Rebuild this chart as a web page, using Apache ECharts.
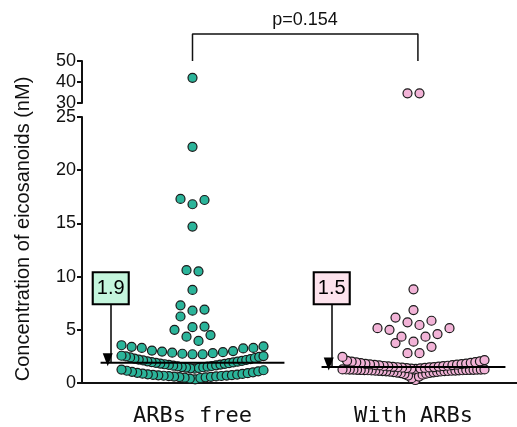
<!DOCTYPE html>
<html>
<head>
<meta charset="utf-8">
<script src="https://cdn.jsdelivr.net/npm/echarts@6/dist/echarts.min.js"></script>
<style>
  html, body { margin: 0; padding: 0; background: #fff; }
  #chart { width: 517px; height: 427px; }
</style>
</head>
<body>
<div id="chart"></div>
<script>
// groups on the x axis
const categories = ['ARBs free', 'With ARBs'];
// values (nM); the ones above 30 sit on the upper, broken part of the axis
const arbsFreeValues = [
    42,
    22.2, 17.3, 17.2, 16.8, 14.7, 10.6, 10.5, 8.75, 7.3, 6.9, 6.8, 6.25, 5.3, 5.25, 5.0, 4.5, 4.35, 3.95,
    2.7, 2.7, 2.75, 2.8, 2.85, 2.9, 2.95, 3.0, 3.05, 3.25, 3.3, 3.3, 3.4, 3.45, 3.55,
    1.35, 1.38, 1.42, 1.45, 1.48, 1.5, 1.53, 1.56, 1.6, 1.63, 1.66, 1.7, 1.73, 1.76, 1.8, 1.83, 1.86,
    1.9, 1.93, 1.96, 2.0, 2.04, 2.08, 2.12, 2.16, 2.2, 2.25, 2.3, 2.35, 2.4, 2.45, 2.5, 2.53, 2.56,
    0.35, 0.42, 0.47, 0.5, 0.53, 0.56, 0.58, 0.6, 0.62, 0.64, 0.66, 0.68, 0.7, 0.72, 0.74, 0.76,
    0.79, 0.82, 0.85, 0.88, 0.92, 0.96, 1.0, 1.05, 1.1, 1.15, 1.2, 1.26
];
const withArbsValues = [
    34.6, 34.6,
    8.8, 6.85, 6.15, 5.85, 5.7, 5.45, 5.15, 5.15, 5.0, 4.6, 4.35, 4.35, 3.88, 3.75, 3.4, 2.8, 2.8, 2.45, 2.15,
    1.32, 1.35, 1.38, 1.4, 1.42, 1.44, 1.46, 1.48, 1.5, 1.52, 1.54, 1.56, 1.58, 1.6, 1.62, 1.65,
    1.68, 1.7, 1.72, 1.75, 1.78, 1.8, 1.83, 1.86, 1.9, 1.93, 1.96, 2.0, 2.04, 2.08,
    0.28, 0.45, 0.6, 0.7, 0.78, 0.84, 0.88, 0.92, 0.95, 0.98, 1.0, 1.02, 1.04, 1.06, 1.08, 1.1,
    1.11, 1.12, 1.13, 1.14, 1.15, 1.16, 1.17, 1.18, 1.19, 1.2, 1.2, 1.21, 1.22, 1.22, 1.23, 1.24,
    1.24, 1.25, 1.25, 1.26, 1.26, 1.27, 1.28, 1.28
];
const medians = [1.9, 1.5];
const medianLabels = ['1.9', '1.5'];
const pValueText = 'p=0.154';
const lowRange = [0, 25];
const highRange = [30, 50];

const pointColors = ['#2bb49a', '#f2b3d7'];
const boxColors = ['#c4f6dd', '#fde3ed'];

var chart = echarts.init(document.getElementById('chart'));

// base layout: lower grid 0-25, upper grid 30-50 (broken axis)
var option = {
    animation: false,
    grid: [
        {left: 82, top: 117, width: 442, height: 266, outerBoundsMode: 'none'},
        {left: 82, top: 61, width: 442, height: 42, outerBoundsMode: 'none'}
    ],
    xAxis: [
        {
            type: 'category', gridIndex: 0, data: categories,
            axisLine: {lineStyle: {color: '#111', width: 2}},
            axisTick: {alignWithLabel: true, length: 5, lineStyle: {color: '#111', width: 2}},
            axisLabel: {margin: 22, fontSize: 22, color: '#111', fontFamily: 'DejaVu Sans Mono'}
        },
        {type: 'value', gridIndex: 0, min: 0.5, max: 2.5, show: false},
        {type: 'value', gridIndex: 1, min: 0.5, max: 2.5, show: false}
    ],
    yAxis: [
        {
            type: 'value', gridIndex: 0, min: lowRange[0], max: lowRange[1], interval: 5,
            splitLine: {show: false},
            axisLine: {show: true, lineStyle: {color: '#111', width: 2}},
            axisTick: {show: true, length: 5, lineStyle: {color: '#111', width: 2}},
            axisLabel: {margin: 6, fontSize: 18, color: '#111', fontFamily: 'Liberation Sans'}
        },
        {
            type: 'value', gridIndex: 1, min: highRange[0], max: highRange[1], interval: 10,
            splitLine: {show: false},
            axisLine: {show: true, lineStyle: {color: '#111', width: 2}},
            axisTick: {show: true, length: 5, lineStyle: {color: '#111', width: 2}},
            axisLabel: {margin: 6, fontSize: 18, color: '#111', fontFamily: 'Liberation Sans'}
        }
    ],
    graphic: [
        {
            type: 'text', x: 23, y: 229, rotation: Math.PI / 2,
            style: {
                text: 'Concentration of eicosanoids (nM)', fill: '#111',
                font: '20px "Liberation Sans"', align: 'center', verticalAlign: 'middle'
            }
        },
        {
            type: 'text', x: 305, y: 20,
            style: {
                text: pValueText, fill: '#111',
                font: '18px "Liberation Sans"', align: 'center', verticalAlign: 'middle'
            }
        }
    ],
    series: []
};
chart.setOption(option);

// Prism-like swarm: points are binned into rows, each row sorted and spread out from the center
const ROW_PX = 13.7;
const MAX_STEP = 12;
const ROW_WIDTH = 142;

function swarm(values, center, xIdx, yIdx, base) {
    let zero = chart.convertToPixel({yAxisIndex: yIdx}, base);
    let rows = {};
    values.forEach((v) => {
        let py = chart.convertToPixel({yAxisIndex: yIdx}, v);
        let k = Math.floor((zero - py) / ROW_PX);
        (rows[k] = rows[k] || []).push(v);
    });
    let cx = chart.convertToPixel({xAxisIndex: xIdx}, center);
    let out = [];
    Object.keys(rows).forEach((k) => {
        let row = rows[k].sort((a, b) => a - b);
        let n = row.length;
        let step = n > 1 ? Math.min(MAX_STEP, ROW_WIDTH / (n - 1)) : 0;
        row.forEach((v, i) => {
            let off;
            if (n % 2) {
                off = (i % 2 ? 1 : -1) * Math.ceil(i / 2) * step;
            } else {
                off = (i % 2 ? -1 : 1) * (Math.floor(i / 2) + 0.5) * step;
            }
            out.push([chart.convertFromPixel({xAxisIndex: xIdx}, cx + off), v]);
        });
    });
    return out;
}

let series = [];
[arbsFreeValues, withArbsValues].forEach((vals, g) => {
    let center = g + 1;
    let low = vals.filter((v) => v <= lowRange[1]);
    let high = vals.filter((v) => v >= highRange[0]);
    let pointStyle = {color: pointColors[g], borderColor: '#1a1a1a', borderWidth: 1.2, opacity: 1};
    series.push({
        type: 'scatter', xAxisIndex: 1, yAxisIndex: 0, z: 2,
        symbolSize: 9, itemStyle: pointStyle,
        data: swarm(low, center, 1, 0, lowRange[0])
    });
    series.push({
        type: 'scatter', xAxisIndex: 2, yAxisIndex: 1, z: 2,
        symbolSize: 9, itemStyle: pointStyle,
        data: swarm(high, center, 2, 1, highRange[0])
    });
    // median line with the arrow from the label box
    let boxX = center - 0.37;
    series.push({
        type: 'line', xAxisIndex: 1, yAxisIndex: 0, z: 4,
        symbol: 'none',
        lineStyle: {color: '#000', width: 2},
        data: [[center - 0.416, medians[g]], [center + 0.416, medians[g]]],
        markLine: {
            silent: true,
            symbol: ['none', 'triangle'],
            symbolSize: [10, 13],
            symbolOffset: [0, 3],
            lineStyle: {color: '#000', width: 1.5, type: 'solid'},
            label: {show: false},
            data: [[{coord: [boxX, 8.9]}, {coord: [boxX, medians[g]]}]]
        }
    });
    series.push({
        type: 'scatter', xAxisIndex: 1, yAxisIndex: 0, z: 6,
        symbol: 'rect', symbolSize: [36, 32],
        itemStyle: {color: boxColors[g], borderColor: '#000', borderWidth: 2, opacity: 1},
        label: {
            show: true, position: 'inside', formatter: medianLabels[g],
            fontSize: 20, color: '#000', fontFamily: 'Liberation Sans'
        },
        data: [[boxX, 8.9]]
    });
});

// bracket for the p value
series.push({
    type: 'line', xAxisIndex: 2, yAxisIndex: 1, z: 3,
    symbol: 'none', clip: false,
    lineStyle: {color: '#111', width: 1.5},
    data: [[1, 50], [1, 62.9], [2.02, 62.9], [2.02, 50]]
});

chart.setOption({series: series});
</script>
</body>
</html>
